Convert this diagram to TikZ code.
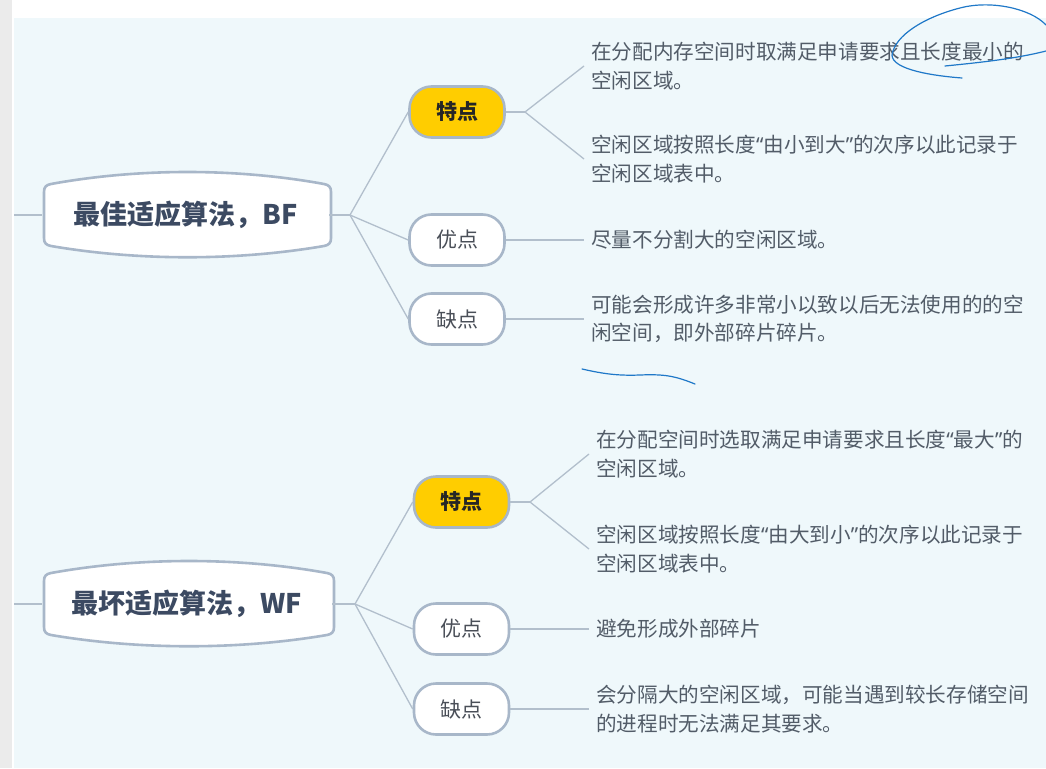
\documentclass[tikz,border=0pt]{standalone}
\usepackage{fontspec}
\setmainfont{Noto Sans CJK SC}
\newfontfamily\qfont{Noto Sans}
\newcommand\oq{{\qfont “}}
\newcommand\cq{{\qfont ”}}
\definecolor{bgblue}{HTML}{EFF8FB}
\definecolor{sidegray}{HTML}{EBEBEB}
\definecolor{linec}{HTML}{B2BFCC}
\definecolor{bordc}{HTML}{A8B7C9}
\definecolor{maintext}{HTML}{3C4A62}
\definecolor{dettext}{HTML}{525C68}
\definecolor{subtext}{HTML}{4A4F58}
\definecolor{hotyellow}{HTML}{FFCD00}
\definecolor{inkblue}{HTML}{1F78C8}
\newcommand\mainshape[3]{%
  \path[mainsh] (#1,#3-23) -- (#1,#3+23)
    .. controls (#1,#3+28) and (#1+2,#3+30) .. (#1+7,#3+31)
    .. controls ({#1+0.33*(#2-#1)},#3+46) and ({#1+0.67*(#2-#1)},#3+46) .. (#2-7,#3+31)
    .. controls (#2-2,#3+30) and (#2,#3+28) .. (#2,#3+23)
    -- (#2,#3-23)
    .. controls (#2,#3-28) and (#2-2,#3-30) .. (#2-7,#3-31)
    .. controls ({#1+0.67*(#2-#1)},#3-47) and ({#1+0.33*(#2-#1)},#3-47) .. (#1+7,#3-31)
    .. controls (#1+2,#3-30) and (#1,#3-28) .. (#1,#3-23) -- cycle;}
\begin{document}
\begin{tikzpicture}[x=1pt,y=-1pt,
  conn/.style={draw=linec, line width=1.3pt},
  mainsh/.style={draw=bordc, fill=white, line width=2.6pt},
  mainnode/.style={inner sep=0pt, text=maintext, font=\fontsize{27}{30}\selectfont\bfseries},
  subbox/.style={draw=bordc, line width=2.6pt, rounded corners=22pt, minimum width=95pt,
    minimum height=51pt, inner sep=0pt, fill=white, text=subtext, font=\fontsize{21}{24}\selectfont},
  hotbox/.style={subbox, fill=hotyellow, text=black!85, font=\fontsize{21}{24}\selectfont\bfseries},
  txt/.style={anchor=west, inner xsep=7pt, inner ysep=0pt, align=left, text=dettext,
    font=\fontsize{20.6}{28.5}\selectfont},
  ink/.style={draw=inkblue, line width=1.2pt, line cap=round, line join=round}]
\useasboundingbox (0,0) rectangle (1046,768);
\fill[white] (0,0) rectangle (1046,768);
\fill[sidegray] (0,0) rectangle (12,768);
\fill[bgblue] (14,18) rectangle (1046,768);

% ---------- group 1 ----------
\mainshape{44}{331}{215}
\node[mainnode, minimum width=287pt, minimum height=58pt] (m1) at (185.5,215) {最佳适应算法，BF};
\node[hotbox] (a1) at (457,112) {特点};
\node[subbox] (a2) at (457,240) {优点};
\node[subbox] (a3) at (457,319) {缺点};
\coordinate (l1) at (14,215);
\coordinate (b1) at (350,215);
\coordinate (c1) at (525,112);
\node[txt] (t1) at (584,66) {在分配内存空间时取满足申请要求且长度最小的\\空闲区域。};
\node[txt] (t2) at (584,159) {空闲区域按照长度\oq 由小到大\cq 的次序以此记录于\\空闲区域表中。};
\node[txt] (t3) at (584,240) {尽量不分割大的空闲区域。};
\node[txt] (t4) at (584,319) {可能会形成许多非常小以致以后无法使用的的空\\闲空间，即外部碎片碎片。};
\draw[conn] (l1) -- (m1.west);
\draw[conn] (m1.east) -- (b1);
\draw[conn] (b1) -- (a1.west);
\draw[conn] (b1) -- (a2.west);
\draw[conn] (b1) -- (a3.west);
\draw[conn] (a1.east) -- (c1);
\draw[conn] (c1) -- (t1.west);
\draw[conn] (c1) -- (t2.west);
\draw[conn] (a2.east) -- (t3.west);
\draw[conn] (a3.east) -- (t4.west);

% ---------- group 2 ----------
\mainshape{44}{334}{604}
\node[mainnode, minimum width=290pt, minimum height=58pt] (m2) at (187,604) {最坏适应算法，WF};
\node[hotbox] (d1) at (461.5,502) {特点};
\node[subbox] (d2) at (461.5,629) {优点};
\node[subbox] (d3) at (461.5,709) {缺点};
\coordinate (l2) at (14,604);
\coordinate (b2) at (355,604);
\coordinate (c2) at (530,502);
\node[txt] (u1) at (589,454) {在分配空间时选取满足申请要求且长度\oq 最大\cq 的\\空闲区域。};
\node[txt] (u2) at (589,549) {空闲区域按照长度\oq 由大到小\cq 的次序以此记录于\\空闲区域表中。};
\node[txt] (u3) at (589,629) {避免形成外部碎片};
\node[txt] (u4) at (589,709) {会分隔大的空闲区域，可能当遇到较长存储空间\\的进程时无法满足其要求。};
\draw[conn] (l2) -- (m2.west);
\draw[conn] (m2.east) -- (b2);
\draw[conn] (b2) -- (d1.west);
\draw[conn] (b2) -- (d2.west);
\draw[conn] (b2) -- (d3.west);
\draw[conn] (d1.east) -- (c2);
\draw[conn] (c2) -- (u1.west);
\draw[conn] (c2) -- (u2.west);
\draw[conn] (d2.east) -- (u3.west);
\draw[conn] (d3.east) -- (u4.west);

% ---------- hand-drawn ink strokes ----------
\draw[ink] (1046,25) .. controls (1030,8) and (990,0) .. (960,8)
  .. controls (925,17) and (895,35) .. (892,55)
  .. controls (892,70) and (935,76) .. (962,78);
\draw[ink] (945,66) .. controls (975,63) and (1015,59) .. (1046,51);
\draw[ink] (582,369) .. controls (600,373) and (615,376) .. (640,375)
  .. controls (665,374) and (675,376) .. (695,384);
\end{tikzpicture}
\end{document}
